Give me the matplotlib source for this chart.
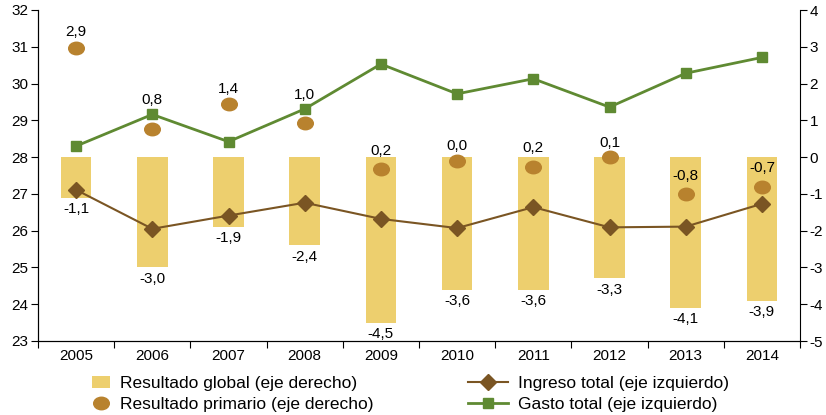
import matplotlib
matplotlib.use("Agg")
import matplotlib.pyplot as plt
from matplotlib.markers import MarkerStyle
from matplotlib.transforms import Affine2D
import numpy as np

plt.rcParams['font.family'] = ['Liberation Sans', 'DejaVu Sans']
plt.rcParams['axes.unicode_minus'] = False

years = ['2005', '2006', '2007', '2008', '2009', '2010', '2011', '2012', '2013', '2014']
resultado_global = [-1.1, -3.0, -1.9, -2.4, -4.5, -3.6, -3.6, -3.3, -4.1, -3.9]
# dots as they sit in the picture, labels as printed
resultado_primario = [2.98, 0.77, 1.45, 0.94, -0.33, -0.1, -0.28, 0.01, -1.0, -0.8]
primario_labels = ['2,9', '0,8', '1,4', '1,0', '0,2', '0,0', '0,2', '0,1', '-0,8', '-0,7']
ingreso_total = [27.11, 26.05, 26.41, 26.76, 26.32, 26.07, 26.64, 26.09, 26.11, 26.73]
gasto_total = [28.30, 29.16, 28.42, 29.31, 30.53, 29.72, 30.13, 29.36, 30.28, 30.71]

c_bar = '#EDCF6E'
c_dot = '#B8822E'
c_ing = '#7A5523'
c_gas = '#5F8A32'

x = np.arange(len(years))

fig = plt.figure(figsize=(8.26, 4.15), dpi=100)
ax = fig.add_axes([38/826, 1-341/415, (800-38)/826, (341-10)/415])
ax2 = ax.twinx()
ax.set_zorder(ax2.get_zorder() + 1)
ax.patch.set_visible(False)

ellipse = MarkerStyle('o', transform=Affine2D().scale(1.25, 1.0))
bars = ax2.bar(x, resultado_global, width=0.4, color=c_bar, zorder=1)
dots, = ax2.plot(x, resultado_primario, marker=ellipse, color=c_dot, markersize=9,
                 linestyle='none', zorder=2)
for xi, v in zip(x, resultado_global):
    ax2.annotate(f'{v:.1f}'.replace('.', ','), (xi, v), xytext=(0, -3), textcoords='offset points',
                 ha='center', va='top', fontsize=11)
offs = [11, 21, 11, 20, 13, 11, 14, 10, 13, 13]
for xi, v, lab, o in zip(x, resultado_primario, primario_labels, offs):
    ax2.annotate(lab, (xi, v), xytext=(0, o), textcoords='offset points',
                 ha='center', va='center', fontsize=11)

ing, = ax.plot(x, ingreso_total, '-D', color=c_ing, markersize=8.5, linewidth=1.5)
gas, = ax.plot(x, gasto_total, '-s', color=c_gas, markersize=7.5, linewidth=2)

ax.set_xlim(-0.5, len(years) - 0.5)
ax.set_ylim(23, 32)
ax2.set_ylim(-5, 4)
ax.set_yticks(range(23, 33))
ax2.set_yticks(range(-5, 5))

ax.set_xticks(np.arange(-0.5, len(years), 1))
ax.set_xticklabels([])
ax.set_xticks(x, minor=True)
ax.set_xticklabels(years, minor=True)
ax.tick_params(axis='x', which='major', length=5, direction='out')
ax.tick_params(axis='x', which='minor', length=0, pad=6, labelsize=11)
ax.tick_params(axis='y', length=5, direction='out', labelsize=11, pad=2)
ax2.tick_params(axis='y', length=5, direction='out', labelsize=11, pad=2)

for a in (ax, ax2):
    a.spines['top'].set_visible(False)
ax.spines['right'].set_visible(False)

fig.legend([bars, dots], ['Resultado global (eje derecho)', 'Resultado primario (eje derecho)'],
           loc='upper left', bbox_to_anchor=(80/826, 1-364/415), frameon=False,
           fontsize=12.5, handlelength=1.0, handletextpad=0.6, labelspacing=0.3,
           borderpad=0.2)
fig.legend([ing, gas], ['Ingreso total (eje izquierdo)', 'Gasto total (eje izquierdo)'],
           loc='upper left', bbox_to_anchor=(456/826, 1-364/415), frameon=False,
           fontsize=12.5, handlelength=2.3, handletextpad=0.6, labelspacing=0.3,
           borderpad=0.2)

fig.savefig('out.png', dpi=100)
